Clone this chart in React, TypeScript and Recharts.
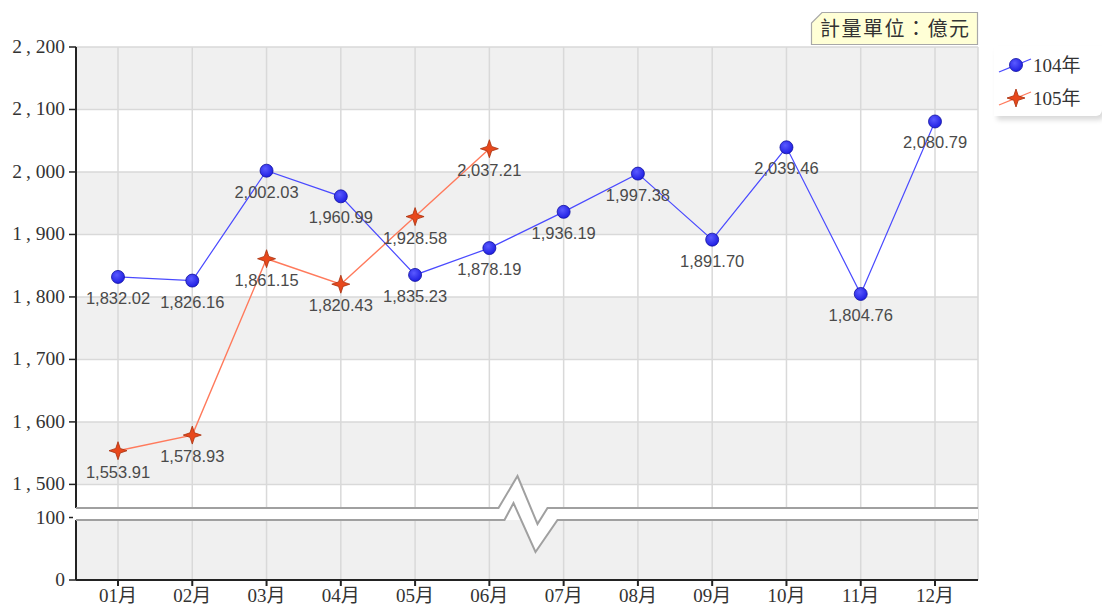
import {
  CartesianGrid,
  Line,
  LineChart,
  ReferenceArea,
  XAxis,
  YAxis,
} from "recharts";

const months = ["01月", "02月", "03月", "04月", "05月", "06月", "07月", "08月", "09月", "10月", "11月", "12月"];
const values104 = [1832.02, 1826.16, 2002.03, 1960.99, 1835.23, 1878.19, 1936.19, 1997.38, 1891.7, 2039.46, 1804.76, 2080.79];
const values105 = [1553.91, 1578.93, 1861.15, 1820.43, 1928.58, 2037.21];
const yTickValues = [0, 100, 1500, 1600, 1700, 1800, 1900, 2000, 2100, 2200];

// broken axis: 0..100 below, 1500..2200 above, with a gap of 53 units between
const BREAK_LOW = 100;
const BREAK_HIGH = 1500;
const GAP = 53;
const toAxis = (v: number) => (v <= BREAK_LOW ? v : v - BREAK_HIGH + BREAK_LOW + GAP);
const fromAxis = (t: number) => (t <= BREAK_LOW ? t : t + BREAK_HIGH - BREAK_LOW - GAP);

const X_PAD = { left: 42, right: 43 };

const series = [
  { key: "y104", name: "104年", color: "#4a4aff" },
  { key: "y105", name: "105年", color: "#ff7a5c" },
];

const data = months.map((month, i) => ({
  month,
  y104: values104[i] != null ? toAxis(values104[i]) : null,
  y105: values105[i] != null ? toAxis(values105[i]) : null,
}));

const fmtTick = (v: number) => Math.round(fromAxis(v)).toLocaleString("en-US");
const fmtValue = (v: number) =>
  v.toLocaleString("en-US", { minimumFractionDigits: 2, maximumFractionDigits: 2 });

const serif = "'Liberation Serif', 'Noto Sans CJK TC', serif";
const sans = "'Liberation Sans', Arial, sans-serif";

const YTick = ({ x, y, payload }: any) => {
  const label = fmtTick(payload.value);
  const parts = label.split(",");
  return (
    <text x={x} y={y} dy={6} textAnchor="end" fontFamily={serif} fontSize={19.5} fill="#333">
      {parts.length > 1 ? (
        <>
          <tspan>{parts[0]}</tspan>
          <tspan dx={4}>,</tspan>
          <tspan dx={5}>{parts[1]}</tspan>
        </>
      ) : (
        label
      )}
    </text>
  );
};

const CircleDot = ({ cx, cy, index }: any) =>
  cx == null || cy == null ? null : (
    <circle key={index} cx={cx} cy={cy} r={6.5} fill="url(#blueBall)" stroke="#1010a0" strokeWidth={0.8} />
  );

const starPath = (cx: number, cy: number, ro: number, ri: number) => {
  const pts: string[] = [];
  for (let k = 0; k < 8; k++) {
    const a = (Math.PI / 4) * k - Math.PI / 2;
    const r = k % 2 === 0 ? ro : ri;
    pts.push(`${(cx + r * Math.cos(a)).toFixed(2)},${(cy + r * Math.sin(a)).toFixed(2)}`);
  }
  return `M${pts.join("L")}Z`;
};

const StarDot = ({ cx, cy, index }: any) =>
  cx == null || cy == null ? null : (
    <path key={index} d={starPath(cx, cy, 9, 3.2)} fill="#e8481c" stroke="#a8300c" strokeWidth={0.8} />
  );

const makeLabel = (raw: number[]) => (props: any) => {
  const { x, y, index } = props;
  if (raw[index] == null || x == null || y == null) return null;
  return (
    <text key={index} x={x} y={y + 27} textAnchor="middle" fontFamily={sans} fontSize={16.5} fill="#4a4a4a">
      {fmtValue(raw[index])}
    </text>
  );
};

// the area spans the first..last category; stretch it over the axis padding to reach the plot edges
const BreakShape = ({ x, y, width, height }: any) => {
  const left = x - X_PAD.left;
  const right = x + width + X_PAD.right;
  const yt = y;
  const yb = y + height;
  const cx = x + width / 2;
  const top = [
    [left, yt],
    [cx - 28, yt],
    [cx - 9, yt - 32],
    [cx + 11, yt + 16],
    [cx + 21, yt],
    [right, yt],
  ];
  const bottom = [
    [left, yb],
    [cx - 22, yb],
    [cx - 13, yb - 17],
    [cx + 9, yb + 32],
    [cx + 31, yb],
    [right, yb],
  ];
  const toStr = (p: number[][]) => p.map((q) => q.join(",")).join(" ");
  return (
    <g>
      <rect x={left - 3} y={yt} width={right - left + 3} height={height} fill="#fff" />
      <polygon points={toStr([...top, ...bottom.slice().reverse()])} fill="#fff" />
      <polyline points={toStr(top)} fill="none" stroke="#a0a0a0" strokeWidth={2} />
      <polyline points={toStr(bottom)} fill="none" stroke="#a0a0a0" strokeWidth={2} />
    </g>
  );
};

const LegendBox = () => (
  <div
    style={{
      position: "absolute",
      left: 994,
      top: 46,
      width: 108,
      height: 70,
      background: "#fff",
      boxShadow: "3px 4px 5px rgba(0,0,0,0.15)",
      borderRadius: "0 0 6px 0",
      fontFamily: serif,
      fontSize: 19,
      color: "#333",
    }}
  >
    {series.map((s, i) => (
      <div key={s.key} style={{ display: "flex", alignItems: "center", height: 33, marginTop: i === 0 ? 1 : 0 }}>
        <svg width={36} height={24} style={{ marginLeft: 3, flex: "none" }}>
          <line x1={2} y1={20} x2={34} y2={7} stroke={s.color} strokeWidth={1.3} />
          {i === 0 ? (
            <circle cx={19} cy={13} r={6.5} fill="url(#blueBall)" stroke="#1010a0" strokeWidth={0.8} />
          ) : (
            <path d={starPath(19, 13, 9, 3.2)} fill="#e8481c" stroke="#a8300c" strokeWidth={0.8} />
          )}
        </svg>
        <span>{s.name}</span>
      </div>
    ))}
  </div>
);

export default function App() {
  return (
    <div style={{ position: "absolute", left: 0, top: 0, width: 1102, height: 612, background: "#fff" }}>
      <svg width={0} height={0} style={{ position: "absolute" }}>
        <defs>
          <radialGradient id="blueBall" cx="40%" cy="35%" r="70%">
            <stop offset="0%" stopColor="#5a5aff" />
            <stop offset="100%" stopColor="#1a1ae0" />
          </radialGradient>
        </defs>
      </svg>
      <LineChart width={1102} height={612} data={data} margin={{ top: 47, right: 124, bottom: 0, left: 0 }}>
        <CartesianGrid
          stroke="#d9d9d9"
          strokeWidth={1.5}
          horizontalFill={["#f0f0f0", "#ffffff"]}
        />
        <XAxis
          dataKey="month"
          height={32}
          padding={X_PAD}
          tick={{ fontFamily: serif, fontSize: 19, fill: "#333" }}
          tickSize={6}
          tickMargin={3}
          tickLine={{ stroke: "#222", strokeWidth: 2 }}
          axisLine={{ stroke: "#222", strokeWidth: 2 }}
        />
        <YAxis
          type="number"
          width={76}
          domain={[0, toAxis(2200)]}
          ticks={yTickValues.map(toAxis)}
          interval={0}
          tick={<YTick />}
          tickSize={7}
          tickMargin={4}
          tickLine={{ stroke: "#222", strokeWidth: 1.5 }}
          axisLine={{ stroke: "#222", strokeWidth: 2 }}
        />
        <Line
          dataKey="y104"
          name="104年"
          stroke="#4a4aff"
          strokeWidth={1.2}
          dot={<CircleDot />}
          activeDot={false}
          label={makeLabel(values104)}
          isAnimationActive={false}
        />
        <Line
          dataKey="y105"
          name="105年"
          stroke="#ff7a5c"
          strokeWidth={1.4}
          dot={<StarDot />}
          activeDot={false}
          label={makeLabel(values105)}
          connectNulls={false}
          isAnimationActive={false}
        />
        <ReferenceArea
          y1={96}
          y2={115.2}
          shape={<BreakShape />}
          ifOverflow="visible"
          zIndex={700}
        />
      </LineChart>
      <LegendBox />
      <div style={{ position: "absolute", left: 810, top: 11, width: 170, height: 34 }}>
        <svg width={170} height={34} style={{ position: "absolute", left: 0, top: 0 }}>
          <path d="M1.5,33.5 L1.5,12 L12,1.5 L167.5,1.5 L167.5,33.5 Z" fill="#ffffd6" stroke="#a8a8a8" strokeWidth={1.2} />
        </svg>
        <div
          style={{
            position: "absolute",
            left: 10,
            top: 4,
            fontFamily: "'Noto Sans CJK TC', sans-serif",
            fontSize: 20,
            letterSpacing: 1.5,
            lineHeight: "26px",
            color: "#333",
            whiteSpace: "nowrap",
          }}
        >
          計量單位：億元
        </div>
      </div>
    </div>
  );
}
